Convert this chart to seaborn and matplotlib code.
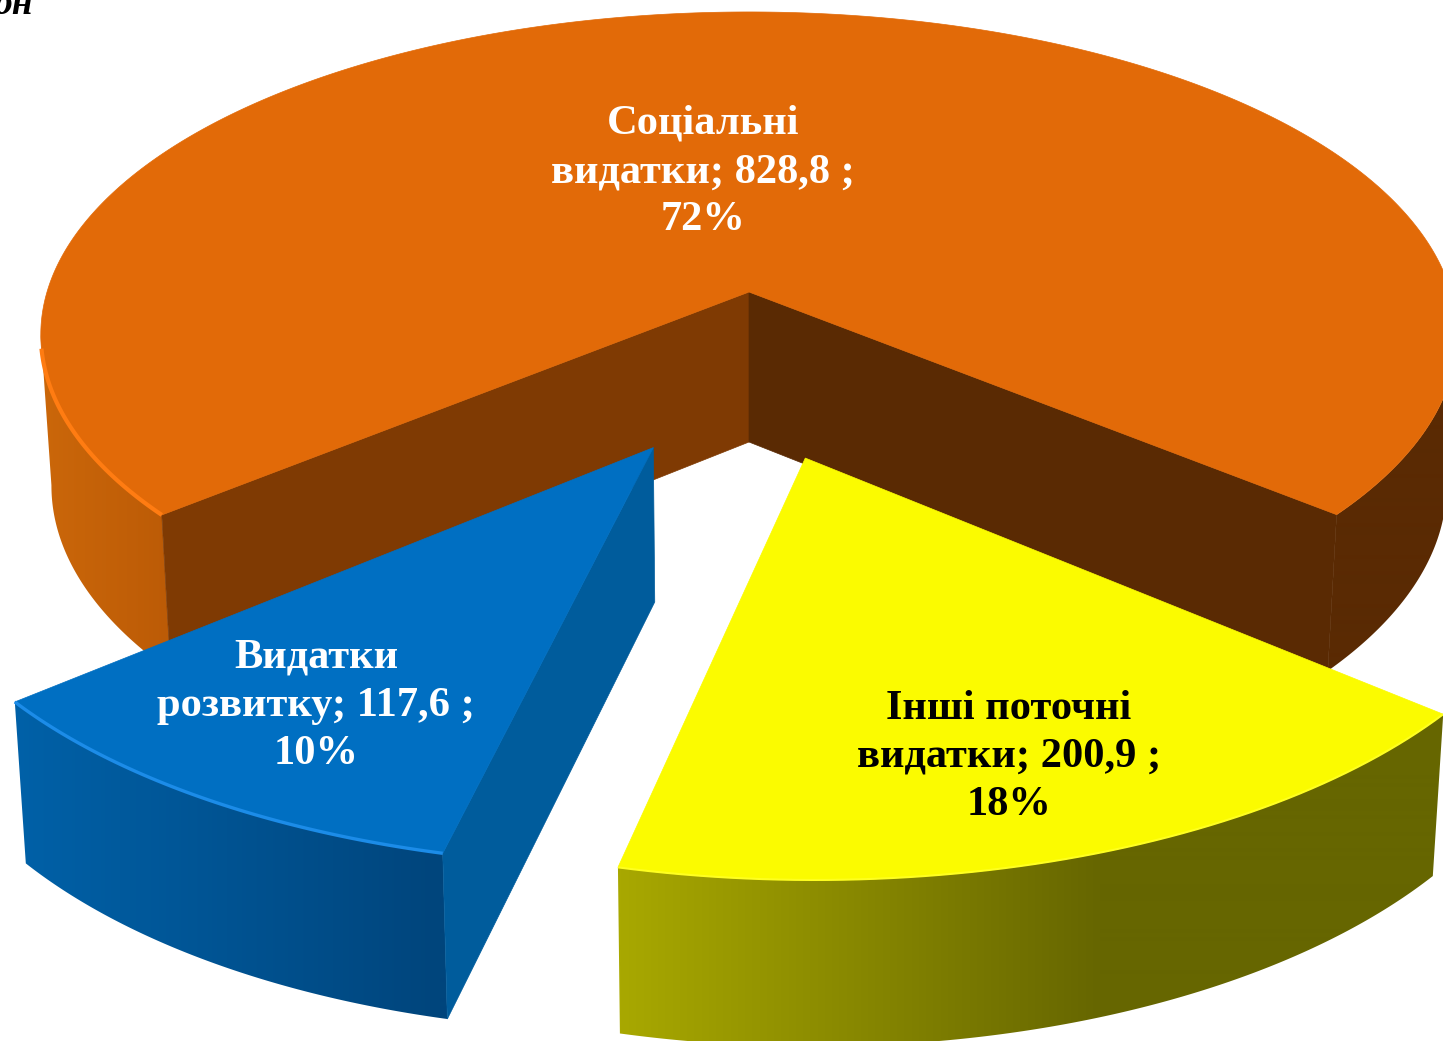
import numpy as np
import matplotlib
matplotlib.use("Agg")
import matplotlib.pyplot as plt
from matplotlib.colors import to_rgb
from matplotlib.patches import Polygon
import seaborn as sns

# ---- data ----
categories = ["Соціальні\nвидатки", "Інші поточні\nвидатки", "Видатки\nрозвитку"]
values = [828.8, 200.9, 117.6]
value_labels = ["828,8", "200,9", "117,6"]
percent_labels = ["72%", "18%", "10%"]

# ---- style / layout ----
W, H = 1443, 1041
CX, CY = 749, 292          # projected pie centre
RX, RY, K = 702, 317, 0.132  # disk scale and perspective strength
DEPTH = 150
BOTTOM_X, BOTTOM_Y = 0.985, 1.028
START = 130.0              # clockwise from the back of the pie
EXPLODE = [(0.0, 0.0), (0.075, -0.49), (-0.128, -0.461)]
TOP = sns.color_palette(["#E26A08", "#FBFB00", "#006FC2"])
RIM = ["#FF7C12", "#FFFF20", "#1C8CE8"]
INNER = [("#7F3A03", "#5A2A03"), (None, None), ("#005C9C", None)]  # first edge, last edge
WALL_STOPS = [
    [(42, "#CB670A"), (170, "#BC5B06"), (1000, "#5A2A03"), (1443, "#5A2A03")],
    [(622, "#A8A800"), (1100, "#666600"), (1443, "#666600")],
    [(14, "#0061A8"), (440, "#00457C")],
]
TEXT = ["white", "black", "white"]
LABEL_POS = [(703, 172), (1009, 757), (316, 706)]
FONT = ["Liberation Serif", "DejaVu Serif"]
FS = 30.6

sns.set_theme(style="white")
fig = plt.figure(figsize=(W / 100, H / 100), dpi=100, facecolor="white")
ax = fig.add_axes([0, 0, 1, 1])


def top_xy(u, v):
    s = 1.0 / (1.0 + K * v)
    return CX + RX * u * s, CY - RY * v * s


def bot_xy(u, v):
    x, y = top_xy(u, v)
    return CX + BOTTOM_X * (x - CX), CY + BOTTOM_Y * (y - CY) + DEPTH


def arc(a0, a1, ex, n):
    t = np.radians(np.linspace(a0, a1, n))
    return np.sin(t) + ex[0], np.cos(t) + ex[1]


def gradient(stops):
    xs = [s[0] for s in stops]
    rgb = np.array([to_rgb(s[1]) for s in stops])
    grid = np.arange(W) + 0.5
    return np.stack([np.interp(grid, xs, rgb[:, i]) for i in range(3)], axis=-1)[None, :, :]


def wall(xt, yt, xb, yb, stops, z):
    im = ax.imshow(gradient(stops), extent=(0, W, H, 0), aspect="auto",
                   interpolation="bilinear", zorder=z)
    im.set_clip_path(Polygon(np.c_[np.r_[xt, xb[::-1]], np.r_[yt, yb[::-1]]],
                             closed=True, transform=ax.transData))


total = sum(values)
spans = [v / total * 360 for v in values]
ranges = {}
a = START
for i in (1, 2, 0):          # clockwise: yellow, blue, orange
    ranges[i] = (a, a + spans[i])
    a += spans[i]

z = 1
for i in (0, 2, 1):
    a0, a1 = ranges[i]
    ex = EXPLODE[i]
    u, v = arc(a0, a1, ex, 600)
    xt, yt = top_xy(u, v)
    xb, yb = bot_xy(u, v)
    # outer wall: horizontal shading clipped to the part that faces the viewer
    if i == 0:
        k0 = int(np.argmin(xt)) + 1
        k1 = int(np.argmax(xt))
        wall(xt[:k0], yt[:k0], xb[:k0], yb[:k0], WALL_STOPS[i], z)
        wall(xt[k1:], yt[k1:], xb[k1:], yb[k1:], WALL_STOPS[i], z)
    else:
        wall(xt, yt, xb, yb, WALL_STOPS[i], z)
    z += 1
    # inner walls
    axt, ayt = top_xy(ex[0], ex[1])
    axb, ayb = bot_xy(ex[0], ex[1])
    first_c, last_c = INNER[i]
    if first_c:
        ax.fill([axt, axb, xb[0], xt[0]], [ayt, ayb, yb[0], yt[0]],
                facecolor=first_c, edgecolor=first_c, lw=0.5, zorder=z)
    if last_c:
        ax.fill([axt, axb, xb[-1], xt[-1]], [ayt, ayb, yb[-1], yt[-1]],
                facecolor=last_c, edgecolor=last_c, lw=0.5, zorder=z)
    z += 1
    # top face
    ax.fill(np.r_[axt, xt], np.r_[ayt, yt], facecolor=TOP[i], edgecolor=TOP[i],
            lw=0.5, zorder=z)
    z += 1
    # lit rim on the front edge
    if i == 0:
        ru, rv = arc(a0, a0 + 30, ex, 60)
    else:
        ru, rv = arc(a0, a1, ex, 60)
    rx, ry = top_xy(ru, rv)
    ax.plot(rx, ry, color=RIM[i], lw=3.0 if i == 0 else (2.4 if i == 2 else 1.5),
            solid_capstyle="butt", zorder=z)
    z += 1

for i in range(3):
    lab = f"{categories[i]}; {value_labels[i]} ;\n{percent_labels[i]}"
    ax.text(*LABEL_POS[i], lab, color=TEXT[i], family=FONT, fontweight="bold",
            fontsize=FS, ha="center", va="center", linespacing=1.36, zorder=50)

# fragment of the cropped unit caption
ax.text(33, 14, "он", family=FONT, fontweight="bold", fontstyle="italic",
        fontsize=27, ha="right", va="baseline", color="black", zorder=50)

ax.set_xlim(0, W)
ax.set_ylim(H, 0)
ax.axis("off")
fig.savefig("out.png", dpi=100, facecolor="white")
